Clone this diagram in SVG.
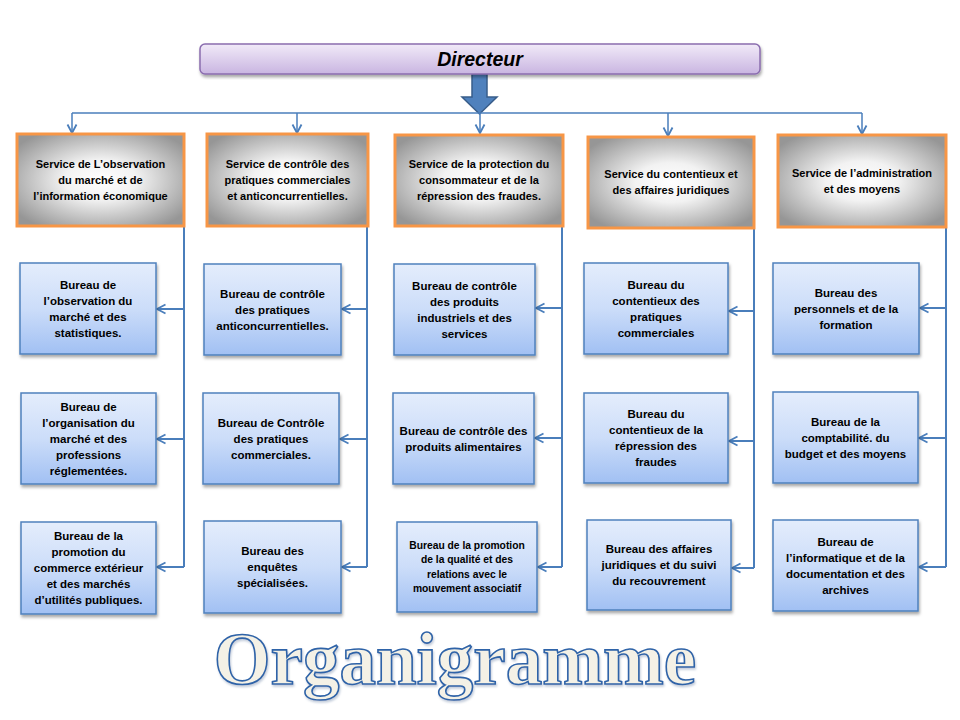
<svg xmlns="http://www.w3.org/2000/svg" width="960" height="720" viewBox="0 0 960 720">
<defs>
<linearGradient id="gDir" x1="0" y1="0" x2="0" y2="1">
<stop offset="0" stop-color="#F1EAF8"/>
<stop offset="1" stop-color="#C9B5E1"/>
</linearGradient>
<radialGradient id="gSrv" cx="0.5" cy="0.5" r="0.62">
<stop offset="0" stop-color="#FFFFFF"/>
<stop offset="0.35" stop-color="#F2F2F2"/>
<stop offset="1" stop-color="#969696"/>
</radialGradient>
<linearGradient id="gBur" x1="0" y1="0" x2="0" y2="1">
<stop offset="0" stop-color="#E4EDFC"/>
<stop offset="0.5" stop-color="#CCDDF9"/>
<stop offset="1" stop-color="#A1C0F3"/>
</linearGradient>
<filter id="sh" x="-10%" y="-10%" width="125%" height="130%">
<feDropShadow dx="1" dy="2.5" stdDeviation="1.5" flood-color="#000" flood-opacity="0.35"/>
</filter>
<filter id="tsh" x="-5%" y="-10%" width="110%" height="130%">
<feDropShadow dx="1" dy="2" stdDeviation="1.2" flood-color="#7A8FAF" flood-opacity="0.45"/>
</filter>
<marker id="ah" markerWidth="12" markerHeight="12" refX="10" refY="6" orient="auto" markerUnits="userSpaceOnUse">
<path d="M1.5,1.5 L10,6 L1.5,10.5" fill="none" stroke="#4A7EBB" stroke-width="1.8"/>
</marker>
</defs>
<style>
.dir{fill:url(#gDir);stroke:#8A6DAF;stroke-width:1.5;filter:url(#sh)}
.srv{fill:url(#gSrv);stroke:#F79646;stroke-width:3}
.bur{fill:url(#gBur);stroke:#4F81BD;stroke-width:1.5;filter:url(#sh)}
.ts{font-family:"Liberation Sans",Arial,sans-serif;font-weight:bold;font-size:11px;fill:#000;text-anchor:middle}
.tb{font-family:"Liberation Sans",Arial,sans-serif;font-weight:bold;font-size:11.5px;fill:#000;text-anchor:middle}
.tb2{font-family:"Liberation Sans",Arial,sans-serif;font-weight:bold;font-size:10.3px;fill:#000;text-anchor:middle}
.cn{fill:none;stroke:#4A7EBB;stroke-width:2}
.ca{fill:none;stroke:#4A7EBB;stroke-width:2;marker-end:url(#ah)}
.ct{fill:none;stroke:#4A7EBB;stroke-width:1.5;marker-end:url(#ah)}
</style>

<g id="connectors">
<path d="M472,74 L487,74 L487,97 L497,97 L479.5,114 L462,97 L472,97 Z" fill="#4F81BD" stroke="#385D8A" stroke-width="1.5"/>
<line x1="72" y1="113" x2="862" y2="113" stroke="#4A7EBB" stroke-width="1.5"/>
<line class="ct" x1="72" y1="113" x2="72" y2="133"/>
<line class="ct" x1="297" y1="113" x2="297" y2="133"/>
<line class="ct" x1="480" y1="113" x2="480" y2="133"/>
<line class="ct" x1="668" y1="113" x2="668" y2="136"/>
<line class="ct" x1="862" y1="113" x2="862" y2="134"/>

<path class="cn" d="M184,226 L184,567"/>
<path class="cn" d="M367,226 L367,567"/>
<path class="cn" d="M562,226 L562,567"/>
<path class="cn" d="M754,228 L754,568"/>
<path class="cn" d="M946,227 L946,567"/>

<line class="ca" x1="184" y1="309" x2="157" y2="309"/>
<line class="ca" x1="184" y1="439" x2="157" y2="439"/>
<line class="ca" x1="184" y1="567" x2="157" y2="567"/>
<line class="ca" x1="367" y1="309" x2="342" y2="309"/>
<line class="ca" x1="367" y1="439" x2="340" y2="439"/>
<line class="ca" x1="367" y1="567" x2="342" y2="567"/>
<line class="ca" x1="562" y1="308" x2="536" y2="308"/>
<line class="ca" x1="562" y1="438" x2="535" y2="438"/>
<line class="ca" x1="562" y1="567" x2="538" y2="567"/>
<line class="ca" x1="754" y1="311" x2="729" y2="311"/>
<line class="ca" x1="754" y1="441" x2="729" y2="441"/>
<line class="ca" x1="754" y1="568" x2="732" y2="568"/>
<line class="ca" x1="946" y1="308" x2="920" y2="308"/>
<line class="ca" x1="946" y1="438" x2="919" y2="438"/>
<line class="ca" x1="946" y1="567" x2="919" y2="567"/>
</g>

<g id="directeur">
<rect class="dir" x="200" y="44" width="560" height="30" rx="5"/>
<text x="480" y="66" font-family="Liberation Sans,Arial,sans-serif" font-weight="bold" font-style="italic" font-size="19.5" text-anchor="middle" fill="#000">Directeur</text>
</g>

<g id="service1">
<rect class="srv" x="17" y="134" width="167" height="92"/>
<text class="ts" x="100.5" y="168">Service de L’observation<tspan x="100.5" dy="16">du marché  et de</tspan><tspan x="100.5" dy="16">l’information  économique</tspan></text>
</g>
<g id="service2">
<rect class="srv" x="207" y="134" width="161" height="92"/>
<text class="ts" x="287.5" y="168">Service de contrôle  des<tspan x="287.5" dy="16">pratiques commerciales</tspan><tspan x="287.5" dy="16">et anticoncurrentielles.</tspan></text>
</g>
<g id="service3">
<rect class="srv" x="395" y="135" width="168" height="91"/>
<text class="ts" x="479" y="168">Service de la protection du<tspan x="479" dy="16">consommateur et de la</tspan><tspan x="479" dy="16">répression des fraudes.</tspan></text>
</g>
<g id="service4">
<rect class="srv" x="588" y="137" width="166" height="91"/>
<text class="ts" x="671" y="178">Service du  contentieux et<tspan x="671" dy="16">des affaires juridiques</tspan></text>
</g>
<g id="service5">
<rect class="srv" x="778" y="135" width="168" height="92"/>
<text class="ts" x="862" y="177">Service de l’administration<tspan x="862" dy="16">et des moyens</tspan></text>
</g>

<g id="bureau11">
<rect class="bur" x="20" y="263" width="136" height="91"/>
<text class="tb" x="88" y="288.5">Bureau de<tspan x="88" dy="16">l’observation du</tspan><tspan x="88" dy="16">marché et des</tspan><tspan x="88" dy="16">statistiques.</tspan></text>
</g>
<g id="bureau12">
<rect class="bur" x="21" y="393" width="135" height="91"/>
<text class="tb" x="88.5" y="410.5">Bureau de<tspan x="88.5" dy="16">l’organisation  du</tspan><tspan x="88.5" dy="16">marché et des</tspan><tspan x="88.5" dy="16">professions</tspan><tspan x="88.5" dy="16">réglementées.</tspan></text>
</g>
<g id="bureau13">
<rect class="bur" x="21" y="522" width="135" height="92"/>
<text class="tb" x="88.5" y="540">Bureau de la<tspan x="88.5" dy="16">promotion du</tspan><tspan x="88.5" dy="16">commerce extérieur</tspan><tspan x="88.5" dy="16">et des marchés</tspan><tspan x="88.5" dy="16">d’utilités publiques.</tspan></text>
</g>

<g id="bureau21">
<rect class="bur" x="204" y="264" width="137" height="91"/>
<text class="tb" x="272.5" y="297.5">Bureau de contrôle<tspan x="272.5" dy="16">des pratiques</tspan><tspan x="272.5" dy="16">anticoncurrentielles.</tspan></text>
</g>
<g id="bureau22">
<rect class="bur" x="203" y="393" width="136" height="91"/>
<text class="tb" x="271" y="426.5">Bureau de Contrôle<tspan x="271" dy="16">des pratiques</tspan><tspan x="271" dy="16">commerciales.</tspan></text>
</g>
<g id="bureau23">
<rect class="bur" x="204" y="521" width="137" height="92"/>
<text class="tb" x="272.5" y="555">Bureau des<tspan x="272.5" dy="16">enquêtes</tspan><tspan x="272.5" dy="16">spécialisées.</tspan></text>
</g>

<g id="bureau31">
<rect class="bur" x="394" y="264" width="141" height="91"/>
<text class="tb" x="464.5" y="289.5">Bureau de contrôle<tspan x="464.5" dy="16">des produits</tspan><tspan x="464.5" dy="16">industriels et des</tspan><tspan x="464.5" dy="16">services</tspan></text>
</g>
<g id="bureau32">
<rect class="bur" x="393" y="393" width="141" height="91"/>
<text class="tb" x="463.5" y="434.5">Bureau de contrôle des<tspan x="463.5" dy="16">produits alimentaires</tspan></text>
</g>
<g id="bureau33">
<rect class="bur" x="397" y="522" width="140" height="90"/>
<text class="tb2" x="467" y="549">Bureau de la promotion<tspan x="467" dy="14.3">de la qualité  et des</tspan><tspan x="467" dy="14.3">relations avec le</tspan><tspan x="467" dy="14.3">mouvement associatif</tspan></text>
</g>

<g id="bureau41">
<rect class="bur" x="584" y="263" width="144" height="91"/>
<text class="tb" x="656" y="288.5">Bureau du<tspan x="656" dy="16">contentieux des</tspan><tspan x="656" dy="16">pratiques</tspan><tspan x="656" dy="16">commerciales</tspan></text>
</g>
<g id="bureau42">
<rect class="bur" x="584" y="393" width="144" height="90"/>
<text class="tb" x="656" y="418">Bureau du<tspan x="656" dy="16">contentieux de la</tspan><tspan x="656" dy="16">répression des</tspan><tspan x="656" dy="16">fraudes</tspan></text>
</g>
<g id="bureau43">
<rect class="bur" x="587" y="520" width="144" height="90"/>
<text class="tb" x="659" y="553">Bureau des affaires<tspan x="659" dy="16">juridiques et du suivi</tspan><tspan x="659" dy="16">du recouvrement</tspan></text>
</g>

<g id="bureau51">
<rect class="bur" x="773" y="263" width="146" height="91"/>
<text class="tb" x="846" y="296.5">Bureau des<tspan x="846" dy="16">personnels et de la</tspan><tspan x="846" dy="16">formation</tspan></text>
</g>
<g id="bureau52">
<rect class="bur" x="773" y="392" width="145" height="91"/>
<text class="tb" x="845.5" y="425.5">Bureau de la<tspan x="845.5" dy="16">comptabilité. du</tspan><tspan x="845.5" dy="16">budget et des moyens</tspan></text>
</g>
<g id="bureau53">
<rect class="bur" x="773" y="520" width="145" height="91"/>
<text class="tb" x="845.5" y="545.5">Bureau de<tspan x="845.5" dy="16">l’informatique  et de la</tspan><tspan x="845.5" dy="16">documentation et des</tspan><tspan x="845.5" dy="16">archives</tspan></text>
</g>

<g id="title">
<text x="455" y="684" font-family="Liberation Serif,Times New Roman,serif" font-weight="bold" font-size="73" text-anchor="middle" fill="#F4F1E6" stroke="#2F63A8" stroke-width="1.6" filter="url(#tsh)">Organigramme</text>
</g>
</svg>
